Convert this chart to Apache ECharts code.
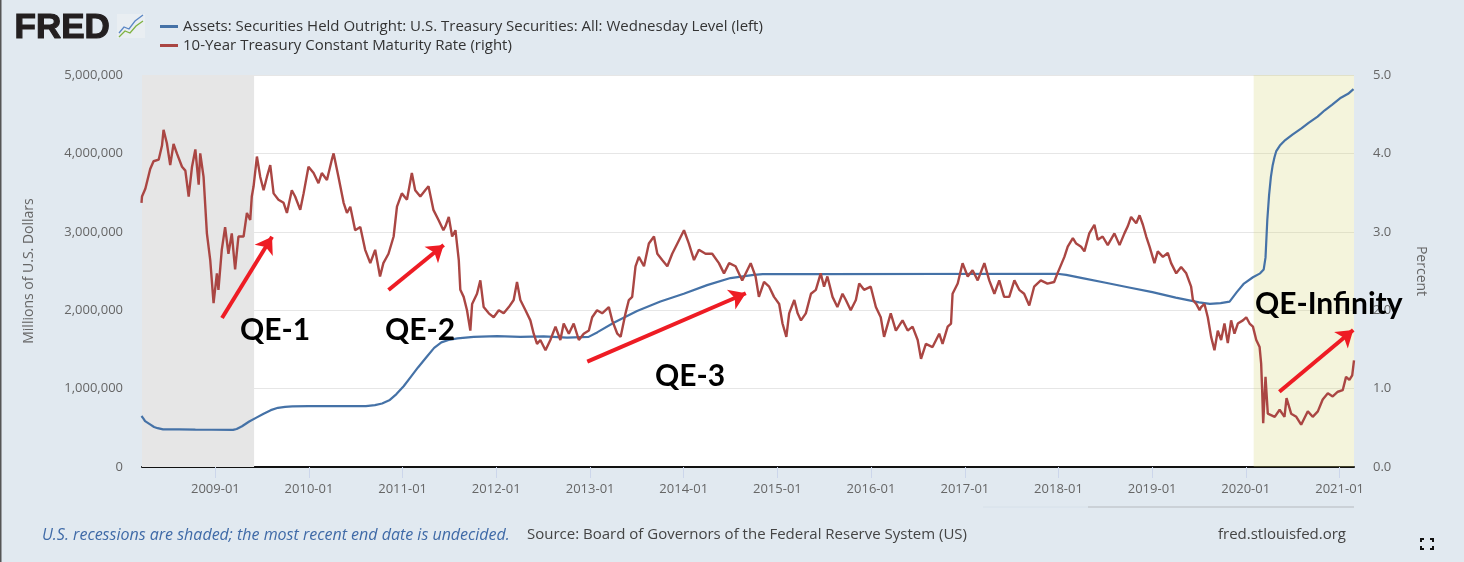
<!DOCTYPE html>
<html>
<head>
<meta charset="utf-8">
<script src="https://cdn.jsdelivr.net/npm/echarts@6/dist/echarts.min.js"></script>
<style>
html, body { margin: 0; padding: 0; background: #e1e9f0; }
#chart { width: 1464px; height: 562px; }
</style>
</head>
<body>
<div id="chart"></div>
<script>
const assetsName = "Assets: Securities Held Outright: U.S. Treasury Securities: All: Wednesday Level (left)";
const rateName = "10-Year Treasury Constant Maturity Rate (right)";

// weekly level, millions of dollars
const treasuryHoldings = [
	["2008-03-19", 650000], ["2008-03-26", 620000], ["2008-04-02", 585000], ["2008-04-09", 560000],
	["2008-04-23", 540000], ["2008-05-07", 510000], ["2008-05-21", 495000], ["2008-06-11", 480000],
	["2008-08-13", 479000], ["2008-10-15", 476000], ["2008-12-17", 475000], ["2009-03-11", 474000],
	["2009-03-25", 485000], ["2009-04-15", 520000], ["2009-05-13", 580000], ["2009-06-10", 630000],
	["2009-07-08", 680000], ["2009-08-05", 725000], ["2009-09-02", 755000], ["2009-09-30", 768000],
	["2009-10-28", 774000], ["2009-12-30", 776000], ["2010-04-28", 777000], ["2010-08-11", 777000],
	["2010-09-15", 790000], ["2010-10-13", 810000], ["2010-11-10", 850000], ["2010-12-08", 930000],
	["2011-01-05", 1030000], ["2011-02-02", 1150000], ["2011-03-02", 1270000], ["2011-04-06", 1410000],
	["2011-05-04", 1520000], ["2011-06-01", 1590000], ["2011-06-29", 1620000], ["2011-08-03", 1640000],
	["2011-10-05", 1660000], ["2012-01-04", 1670000], ["2012-04-04", 1660000], ["2012-07-04", 1665000],
	["2012-10-03", 1650000], ["2012-12-26", 1660000], ["2013-01-30", 1720000], ["2013-04-03", 1840000],
	["2013-07-03", 1990000], ["2013-10-02", 2110000], ["2014-01-01", 2210000], ["2014-04-02", 2320000],
	["2014-07-02", 2410000], ["2014-10-01", 2450000], ["2014-11-05", 2460000], ["2015-06-03", 2461000],
	["2017-12-27", 2465000], ["2018-01-31", 2450000], ["2018-04-04", 2410000], ["2018-07-04", 2350000],
	["2018-10-03", 2290000], ["2019-01-02", 2230000], ["2019-04-03", 2160000], ["2019-07-03", 2100000],
	["2019-08-14", 2080000], ["2019-09-25", 2090000], ["2019-10-30", 2110000], ["2019-11-27", 2230000],
	["2019-12-25", 2340000], ["2020-01-29", 2420000], ["2020-02-26", 2470000], ["2020-03-11", 2520000],
	["2020-03-18", 2670000], ["2020-03-25", 3150000], ["2020-04-01", 3470000], ["2020-04-08", 3700000],
	["2020-04-15", 3850000], ["2020-04-22", 3950000], ["2020-04-29", 4030000], ["2020-05-13", 4100000],
	["2020-06-03", 4170000], ["2020-07-01", 4240000], ["2020-08-05", 4320000], ["2020-09-02", 4390000],
	["2020-10-07", 4470000], ["2020-11-04", 4550000], ["2020-12-02", 4620000], ["2021-01-06", 4710000],
	["2021-02-03", 4760000], ["2021-02-24", 4820000]
];

// percent
const tenYearRate = [
	["2008-03-19", 3.37], ["2008-03-21", 3.45], ["2008-04-03", 3.55], ["2008-04-22", 3.80], ["2008-05-05", 3.90],
	["2008-05-25", 3.92], ["2008-06-07", 4.10], ["2008-06-13", 4.30], ["2008-06-26", 4.13], ["2008-07-09", 3.85],
	["2008-07-22", 4.12], ["2008-08-04", 4.00], ["2008-08-24", 3.83], ["2008-09-06", 3.78], ["2008-09-19", 3.45],
	["2008-10-02", 3.83], ["2008-10-15", 4.05], ["2008-10-28", 3.60], ["2008-11-03", 4.00], ["2008-11-16", 3.70],
	["2008-11-29", 2.98], ["2008-12-12", 2.64], ["2008-12-25", 2.09], ["2009-01-07", 2.47], ["2009-01-13", 2.26],
	["2009-01-26", 2.77], ["2009-02-08", 3.06], ["2009-02-21", 2.72], ["2009-03-06", 2.98], ["2009-03-19", 2.52],
	["2009-04-01", 2.94], ["2009-04-21", 2.94], ["2009-05-04", 3.24], ["2009-05-17", 3.15], ["2009-05-23", 3.45],
	["2009-05-30", 3.58], ["2009-06-12", 3.96], ["2009-06-25", 3.70], ["2009-07-08", 3.53], ["2009-07-21", 3.70],
	["2009-08-03", 3.85], ["2009-08-16", 3.49], ["2009-09-04", 3.41], ["2009-09-24", 3.37], ["2009-10-07", 3.24],
	["2009-10-26", 3.53], ["2009-11-08", 3.45], ["2009-11-28", 3.28], ["2009-12-11", 3.49], ["2009-12-30", 3.83],
	["2010-01-19", 3.75], ["2010-02-07", 3.62], ["2010-02-20", 3.75], ["2010-03-12", 3.66], ["2010-03-31", 3.92],
	["2010-04-07", 4.00], ["2010-04-26", 3.70], ["2010-05-16", 3.37], ["2010-05-29", 3.24], ["2010-06-11", 3.32],
	["2010-06-30", 3.02], ["2010-07-20", 3.06], ["2010-08-08", 2.77], ["2010-08-28", 2.60], ["2010-09-16", 2.77],
	["2010-10-05", 2.43], ["2010-10-18", 2.60], ["2010-11-07", 2.72], ["2010-11-27", 2.94], ["2010-12-10", 3.32],
	["2010-12-29", 3.49], ["2011-01-18", 3.41], ["2011-02-06", 3.75], ["2011-02-19", 3.53], ["2011-03-11", 3.45],
	["2011-03-30", 3.53], ["2011-04-12", 3.58], ["2011-05-01", 3.28], ["2011-05-21", 3.15], ["2011-06-09", 3.02],
	["2011-06-17", 3.07], ["2011-06-30", 3.19], ["2011-07-13", 2.94], ["2011-07-26", 3.02], ["2011-08-08", 2.64],
	["2011-08-14", 2.26], ["2011-08-27", 2.17], ["2011-09-09", 2.00], ["2011-09-22", 1.74], ["2011-09-29", 2.08],
	["2011-10-18", 2.21], ["2011-10-31", 2.38], ["2011-11-13", 2.04], ["2011-12-03", 1.96], ["2011-12-22", 1.91],
	["2012-01-11", 2.00], ["2012-01-30", 1.96], ["2012-02-19", 2.04], ["2012-03-09", 2.13], ["2012-03-22", 2.36],
	["2012-04-04", 2.13], ["2012-04-24", 2.00], ["2012-05-13", 1.87], ["2012-05-26", 1.70], ["2012-06-08", 1.57],
	["2012-06-21", 1.62], ["2012-07-11", 1.49], ["2012-07-30", 1.62], ["2012-08-19", 1.79], ["2012-09-07", 1.62],
	["2012-09-20", 1.83], ["2012-10-10", 1.70], ["2012-10-29", 1.83], ["2012-11-18", 1.62], ["2012-12-07", 1.70],
	["2012-12-27", 1.74], ["2013-01-09", 1.91], ["2013-01-28", 2.00], ["2013-02-17", 1.96], ["2013-03-15", 2.04],
	["2013-03-28", 1.87], ["2013-04-17", 1.70], ["2013-04-30", 1.66], ["2013-05-19", 1.96], ["2013-06-01", 2.13],
	["2013-06-14", 2.17], ["2013-06-27", 2.56], ["2013-07-10", 2.68], ["2013-07-30", 2.56], ["2013-08-18", 2.85],
	["2013-09-07", 2.94], ["2013-09-20", 2.72], ["2013-10-09", 2.64], ["2013-10-29", 2.56], ["2013-11-17", 2.72],
	["2013-12-13", 2.89], ["2014-01-02", 3.02], ["2014-01-21", 2.85], ["2014-02-10", 2.64], ["2014-03-01", 2.77],
	["2014-03-27", 2.72], ["2014-04-22", 2.72], ["2014-05-18", 2.60], ["2014-06-07", 2.47], ["2014-06-27", 2.60],
	["2014-07-22", 2.56], ["2014-08-17", 2.38], ["2014-09-19", 2.60], ["2014-10-08", 2.43], ["2014-10-21", 2.17],
	["2014-11-10", 2.36], ["2014-11-30", 2.30], ["2014-12-19", 2.17], ["2015-01-08", 2.08], ["2015-01-21", 1.83],
	["2015-02-05", 1.66], ["2015-02-16", 1.96], ["2015-03-08", 2.13], ["2015-03-21", 1.96], ["2015-04-03", 1.87],
	["2015-04-22", 1.96], ["2015-05-12", 2.21], ["2015-05-31", 2.26], ["2015-06-19", 2.47], ["2015-07-02", 2.30],
	["2015-07-15", 2.43], ["2015-08-04", 2.17], ["2015-08-23", 2.04], ["2015-09-12", 2.21], ["2015-09-25", 2.13],
	["2015-10-14", 2.00], ["2015-11-03", 2.13], ["2015-11-16", 2.34], ["2015-12-05", 2.26], ["2015-12-31", 2.30],
	["2016-01-20", 2.04], ["2016-02-08", 1.91], ["2016-02-21", 1.66], ["2016-03-18", 1.96], ["2016-04-07", 1.74],
	["2016-05-03", 1.87], ["2016-05-23", 1.74], ["2016-06-11", 1.79], ["2016-07-01", 1.62], ["2016-07-14", 1.38],
	["2016-08-02", 1.57], ["2016-08-28", 1.53], ["2016-09-23", 1.70], ["2016-10-06", 1.57], ["2016-10-26", 1.79],
	["2016-11-08", 1.83], ["2016-11-14", 2.21], ["2016-12-04", 2.34], ["2016-12-23", 2.60], ["2017-01-12", 2.43],
	["2017-01-31", 2.51], ["2017-02-20", 2.38], ["2017-03-18", 2.60], ["2017-04-06", 2.38], ["2017-04-26", 2.21],
	["2017-05-15", 2.38], ["2017-06-03", 2.17], ["2017-06-23", 2.17], ["2017-07-13", 2.38], ["2017-08-01", 2.26],
	["2017-08-20", 2.21], ["2017-09-09", 2.06], ["2017-09-28", 2.30], ["2017-10-24", 2.38], ["2017-11-19", 2.34],
	["2017-12-15", 2.36], ["2017-12-28", 2.47], ["2018-01-24", 2.68], ["2018-02-06", 2.81], ["2018-02-26", 2.92],
	["2018-03-11", 2.85], ["2018-03-30", 2.81], ["2018-04-12", 2.75], ["2018-05-01", 2.98], ["2018-05-21", 3.09],
	["2018-06-03", 2.90], ["2018-06-22", 2.94], ["2018-07-12", 2.83], ["2018-08-07", 2.98], ["2018-08-27", 2.83],
	["2018-09-15", 2.98], ["2018-09-28", 3.07], ["2018-10-11", 3.19], ["2018-10-31", 3.11], ["2018-11-13", 3.21],
	["2018-11-26", 3.09], ["2018-12-09", 2.94], ["2018-12-22", 2.81], ["2019-01-10", 2.60], ["2019-01-23", 2.75],
	["2019-02-12", 2.68], ["2019-03-03", 2.73], ["2019-03-16", 2.60], ["2019-04-05", 2.47], ["2019-04-24", 2.55],
	["2019-05-14", 2.47], ["2019-06-02", 2.30], ["2019-06-09", 2.13], ["2019-06-22", 2.08], ["2019-07-05", 2.00],
	["2019-07-11", 2.04], ["2019-07-24", 2.08], ["2019-08-06", 1.91], ["2019-08-19", 1.66], ["2019-09-01", 1.49],
	["2019-09-14", 1.74], ["2019-09-27", 1.62], ["2019-10-10", 1.83], ["2019-10-23", 1.58], ["2019-11-05", 1.87],
	["2019-11-18", 1.70], ["2019-12-01", 1.83], ["2019-12-21", 1.87], ["2020-01-03", 1.91], ["2020-01-16", 1.83],
	["2020-01-29", 1.79], ["2020-02-11", 1.62], ["2020-02-24", 1.53], ["2020-03-01", 1.32], ["2020-03-05", 0.98],
	["2020-03-09", 0.56], ["2020-03-18", 1.15], ["2020-03-27", 0.68], ["2020-04-23", 0.64], ["2020-05-12", 0.73],
	["2020-05-31", 0.64], ["2020-06-08", 0.88], ["2020-06-26", 0.68], ["2020-07-16", 0.64], ["2020-08-04", 0.54],
	["2020-08-30", 0.71], ["2020-09-18", 0.64], ["2020-10-08", 0.71], ["2020-10-27", 0.86], ["2020-11-16", 0.94],
	["2020-12-05", 0.90], ["2020-12-25", 0.96], ["2021-01-13", 0.98], ["2021-01-26", 1.15], ["2021-02-08", 1.11],
	["2021-02-19", 1.17], ["2021-02-26", 1.36]
];

const recessions = [
	["2008-03-21", "2009-06-01", "#e6e6e6"],
	["2020-02-01", "2021-02-26", "rgba(211,211,115,0.25)"]
];

// arrows: [from date, from level, to date, to level] on the left axis
const qeArrows = [
	["2009-01-27", 1900000, "2009-08-10", 2937000],
	["2010-11-07", 2258000, "2011-06-10", 2832000],
	["2012-12-21", 1343000, "2014-08-31", 2216000],
	["2020-05-11", 960000, "2021-02-23", 1747000]
];

const qeLabels = [
	["QE-1", 240, 330],
	["QE-2", 385, 330],
	["QE-3", 655, 376],
	["QE-Infinity", 1255, 304]
];

const oneYear = 365 * 24 * 3600 * 1000;

var chart = echarts.init(document.getElementById("chart"), null, { renderer: "canvas" });

const textFont = "'Open Sans', sans-serif";

var option = {
	animation: false,
	backgroundColor: "#e1e9f0",
	textStyle: { fontFamily: textFont },
	color: ["#4572a7", "#aa4643"],
	legend: {
		orient: "vertical",
		left: 155,
		top: 14,
		itemGap: 4,
		itemWidth: 18,
		itemHeight: 3,
		icon: "rect",
		selectedMode: false,
		textStyle: { fontSize: 15, color: "#333", fontFamily: textFont },
		data: [assetsName, rateName]
	},
	grid: {
		left: 142,
		right: 110,
		top: 75,
		bottom: 95,
		show: true,
		backgroundColor: "#fff",
		borderWidth: 0
	},
	xAxis: {
		type: "time",
		min: "2008-03-21",
		max: "2021-02-26",
		minInterval: oneYear,
		maxInterval: oneYear + 2 * 24 * 3600 * 1000,
		axisLine: { lineStyle: { color: "#111", width: 2 } },
		axisTick: { show: true, length: 11, lineStyle: { color: "#ccd6eb" } },
		axisLabel: {
			color: "#666",
			fontSize: 13,
			margin: 16,
			formatter: function (v) {
				const d = new Date(v);
				return d.getFullYear() + "-" + String(d.getMonth() + 1).padStart(2, "0");
			}
		},
		splitLine: { show: false }
	},
	yAxis: [
		{
			type: "value",
			min: 0,
			max: 5000000,
			interval: 1000000,
			name: "Millions of U.S. Dollars",
			nameLocation: "middle",
			nameGap: 106,
			nameTextStyle: { color: "#666", fontSize: 14 },
			axisLine: { show: false },
			axisTick: { show: false },
			axisLabel: {
				color: "#666",
				fontSize: 13,
				margin: 19,
				formatter: (v) => v.toLocaleString("en-US")
			},
			splitLine: { lineStyle: { color: "#e6e6e6", width: 1 } }
		},
		{
			type: "value",
			min: 0,
			max: 5,
			interval: 1,
			name: "Percent",
			nameLocation: "middle",
			nameGap: 60,
			nameRotate: -90,
			nameTextStyle: { color: "#666", fontSize: 14 },
			axisLine: { show: false },
			axisTick: { show: false },
			axisLabel: {
				color: "#666",
				fontSize: 13,
				margin: 19,
				formatter: (v) => v.toFixed(1)
			},
			splitLine: { show: false }
		}
	],
	series: [
		{
			name: assetsName,
			type: "line",
			yAxisIndex: 0,
			showSymbol: false,
			lineStyle: { width: 2.2 },
			data: treasuryHoldings,
			markArea: {
				silent: true,
				data: recessions.map((r) => [
					{ xAxis: r[0], itemStyle: { color: r[2] } },
					{ xAxis: r[1] }
				])
			},
			markLine: {
				silent: true,
				symbol: ["none", "arrow"],
				symbolSize: 16,
				label: { show: false },
				lineStyle: { color: "#ee1c24", width: 4, type: "solid", opacity: 1 },
				data: qeArrows.map((a) => [
					{ coord: [a[0], a[1]] },
					{ coord: [a[2], a[3]] }
				])
			}
		},
		{
			name: rateName,
			type: "line",
			yAxisIndex: 1,
			showSymbol: false,
			lineStyle: { width: 2.4 },
			data: tenYearRate
		}
	],
	graphic: [
		{ type: "rect", left: 0, top: 0, shape: { width: 1.5, height: 562 }, style: { fill: "#555" } },
		{
			type: "text", left: 14, top: 10,
			style: {
				text: "FRED", fill: "#231f20", stroke: "#231f20", lineWidth: 1.2,
				font: "900 35px 'Liberation Sans', Arial, sans-serif"
			}
		},
		{ type: "rect", shape: { x: 117, y: 14, width: 28, height: 24 }, style: { fill: "#e9eef2" } },
		{
			type: "polyline",
			shape: { points: [[119, 33], [124, 27], [129, 29], [135, 21], [143, 15]] },
			style: { stroke: "#5b87c5", lineWidth: 1.3, fill: null }
		},
		{
			type: "polyline",
			shape: { points: [[119, 37], [125, 31], [130, 33], [136, 26], [143, 21]] },
			style: { stroke: "#7fb241", lineWidth: 1.3, fill: null }
		},
		...qeLabels.map((q) => ({
			type: "text",
			z: 100,
			x: q[1],
			y: q[2],
			style: {
				text: q[0],
				fill: "#000",
				font: "bold 30px Lato, sans-serif",
				textVerticalAlign: "middle"
			}
		})),
		{
			type: "text", x: 42, y: 535,
			style: {
				text: "U.S. recessions are shaded; the most recent end date is undecided.",
				fill: "#3f6aa7", font: "italic 16px 'Open Sans', sans-serif", textVerticalAlign: "middle"
			}
		},
		{
			type: "text", x: 527, y: 535,
			style: {
				text: "Source: Board of Governors of the Federal Reserve System (US)",
				fill: "#444", font: "15px 'Open Sans', sans-serif", textVerticalAlign: "middle"
			}
		},
		{
			type: "text", x: 1346, y: 535,
			style: {
				text: "fred.stlouisfed.org",
				fill: "#444", font: "15px 'Open Sans', sans-serif", textAlign: "right", textVerticalAlign: "middle"
			}
		},
		{ type: "line", shape: { x1: 983, y1: 507, x2: 1088, y2: 507 }, style: { stroke: "#d6e0e9", lineWidth: 1 } },
		{ type: "line", shape: { x1: 1088, y1: 507, x2: 1354, y2: 507 }, style: { stroke: "#c3c9cf", lineWidth: 1.5 } },
		{ type: "polyline", shape: { points: [[1421, 542], [1421, 539], [1424, 539]] }, style: { stroke: "#111", lineWidth: 2, fill: null } },
		{ type: "polyline", shape: { points: [[1430, 539], [1433, 539], [1433, 542]] }, style: { stroke: "#111", lineWidth: 2, fill: null } },
		{ type: "polyline", shape: { points: [[1421, 546], [1421, 549], [1424, 549]] }, style: { stroke: "#111", lineWidth: 2, fill: null } },
		{ type: "polyline", shape: { points: [[1430, 549], [1433, 549], [1433, 546]] }, style: { stroke: "#111", lineWidth: 2, fill: null } }
	]
};

chart.setOption(option);
window.addEventListener("resize", chart.resize);
</script>
</body>
</html>
